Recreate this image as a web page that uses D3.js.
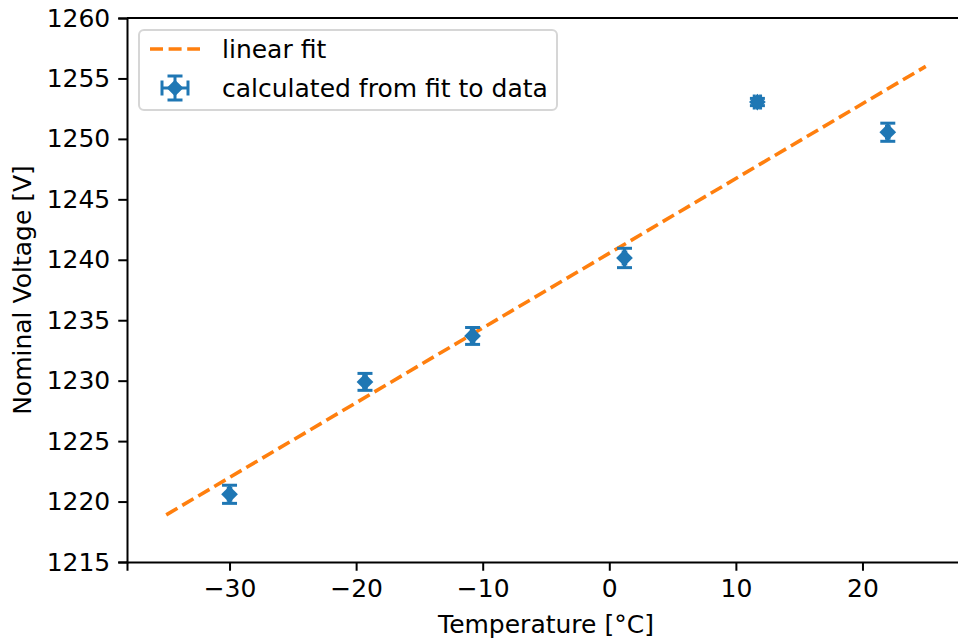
<!DOCTYPE html>
<html>
<head>
<meta charset="utf-8">
<script src="https://cdn.jsdelivr.net/npm/d3@7"></script>
<style>
  body { margin: 0; background: #fff; }
  svg text { font-family: "DejaVu Sans", sans-serif; fill: #000; }
  .axis path, .axis line { stroke: #000; stroke-width: 2px; }
</style>
</head>
<body>
<div id="chart"></div>
<script>
// measured points
var temps = [-30, -19.3, -10.8, 1.2, 11.7, 22];
var volts = [1220.6, 1229.9, 1233.7, 1240.15, 1253.05, 1250.55];
var voltErr = [0.75, 0.7, 0.7, 0.8, 0.3, 0.75];
var tempErr = [0.1, 0.1, 0.1, 0.1, 0.25, 0.1];

// linear fit endpoints
var fitX = [-35, 25];
var fitY = [1218.9, 1256.0];

var xTicks = [-30, -20, -10, 0, 10, 20];
var yTicks = [1215, 1220, 1225, 1230, 1235, 1240, 1245, 1250, 1255, 1260];

var margin = { top: 18, right: -7, bottom: 81, left: 127 };
var W = 958, H = 643;
var width = W - margin.left - margin.right;
var height = H - margin.top - margin.bottom;

var blue = "#1f77b4", orange = "#ff7f0e";
var fs = "25px";

var svg = d3.select("#chart").append("svg")
	.attr("width", W)
	.attr("height", H)
	.append("g")
	.attr("transform", "translate(" + margin.left + "," + margin.top + ")");

var x = d3.scaleLinear().domain([-38.1, 28.1]).range([0, width]);
var y = d3.scaleLinear().domain([1215, 1260]).range([height, 0]);

//axes
svg.append("g")
	.attr("class", "x axis")
	.attr("transform", "translate(0," + height + ")")
	.call(d3.axisBottom(x).tickValues(xTicks).tickSizeOuter(0).tickSize(8.75).tickPadding(8)
		.tickFormat(function(d) { return d < 0 ? "\u2212" + Math.abs(d) : d; }))
	.selectAll("text").style("font-size", fs);

svg.append("g")
	.attr("class", "y axis")
	.call(d3.axisLeft(y).tickValues(yTicks).tickSizeOuter(0).tickSize(8.75).tickPadding(8)
		.tickFormat(d3.format("d")))
	.selectAll("text").style("font-size", fs);

// top spine
svg.append("line")
	.attr("x1", 0).attr("x2", width).attr("y1", 0).attr("y2", 0)
	.attr("stroke", "#000").attr("stroke-width", 2);

//labels
svg.append("text")
	.attr("x", width / 2)
	.attr("y", height + 71)
	.attr("text-anchor", "middle")
	.style("font-size", fs)
	.text("Temperature [°C]");

svg.append("text")
	.attr("transform", "rotate(-90)")
	.attr("x", -height / 2)
	.attr("y", -96)
	.attr("text-anchor", "middle")
	.style("font-size", fs)
	.text("Nominal Voltage [V]");

// fit line
svg.append("line")
	.attr("x1", x(fitX[0])).attr("y1", y(fitY[0]))
	.attr("x2", x(fitX[1])).attr("y2", y(fitY[1]))
	.attr("stroke", orange)
	.attr("stroke-width", 3.6)
	.attr("stroke-dasharray", "13,5.6");

// error bars + diamonds
var pts = temps.map(function(t, i) {
	return { t: t, v: volts[i], ev: voltErr[i], et: tempErr[i] };
});

var cap = 7.5;
var g = svg.selectAll(".pt").data(pts).enter().append("g").attr("class", "pt");

function errorBar(sel, cx, cy, dx, dy) {
	var s = sel.append("g").attr("stroke", blue).attr("stroke-width", 3);
	s.append("line").attr("x1", cx).attr("x2", cx).attr("y1", cy - dy).attr("y2", cy + dy);
	s.append("line").attr("x1", cx - cap).attr("x2", cx + cap).attr("y1", cy - dy).attr("y2", cy - dy);
	s.append("line").attr("x1", cx - cap).attr("x2", cx + cap).attr("y1", cy + dy).attr("y2", cy + dy);
	s.append("line").attr("x1", cx - dx).attr("x2", cx + dx).attr("y1", cy).attr("y2", cy);
	s.append("line").attr("x1", cx - dx).attr("x2", cx - dx).attr("y1", cy - cap).attr("y2", cy + cap);
	s.append("line").attr("x1", cx + dx).attr("x2", cx + dx).attr("y1", cy - cap).attr("y2", cy + cap);
}

var dia = d3.symbol().type(d3.symbolSquare).size(140);

g.each(function(d) {
	var sel = d3.select(this);
	var cx = x(d.t), cy = y(d.v);
	errorBar(sel, cx, cy, x(d.t + d.et) - cx, cy - y(d.v + d.ev));
	sel.append("path")
		.attr("d", dia())
		.attr("fill", blue)
		.attr("transform", "translate(" + cx + "," + cy + ") rotate(45)");
});

//legend
var legend = svg.append("g").attr("transform", "translate(12,12)");
legend.append("rect")
	.attr("width", 418).attr("height", 80)
	.attr("rx", 5)
	.attr("fill", "#fff").attr("fill-opacity", 0.8)
	.attr("stroke", "#d6d6d6").attr("stroke-width", 2);

legend.append("line")
	.attr("x1", 11).attr("x2", 61).attr("y1", 19).attr("y2", 19)
	.attr("stroke", orange).attr("stroke-width", 3.6)
	.attr("stroke-dasharray", "13,5.6");
legend.append("text")
	.attr("x", 83).attr("y", 19).attr("dy", "0.35em")
	.style("font-size", fs)
	.text("linear fit");

var lg = legend.append("g");
errorBar(lg, 36, 58, 13, 12);
lg.append("path")
	.attr("d", dia())
	.attr("fill", blue)
	.attr("transform", "translate(36,58) rotate(45)");
legend.append("text")
	.attr("x", 83).attr("y", 58).attr("dy", "0.35em")
	.style("font-size", fs)
	.text("calculated from fit to data");
</script>
</body>
</html>
